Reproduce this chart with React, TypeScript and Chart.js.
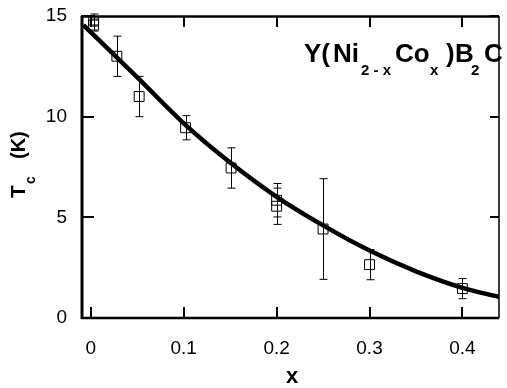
import { useEffect, useRef } from "react";
import { Chart, registerables } from "chart.js";

Chart.register(...registerables);

// measured points (x = Co content, Tc in K) with symmetric error bars
const pointX = [0.003, 0.003, 0.028, 0.052, 0.102, 0.151, 0.2, 0.2, 0.25, 0.3, 0.4];
const pointY = [14.8, 14.55, 13.0, 11.0, 9.45, 7.45, 5.85, 5.55, 4.42, 2.65, 1.46];
const pointErr = [0.3, 0.3, 1.0, 1.0, 0.6, 1.0, 0.83, 0.9, 2.5, 0.75, 0.5];

// fitted curve
const fitX = [-0.008, 0.05, 0.1, 0.15, 0.2, 0.25, 0.3, 0.35, 0.4, 0.44];
const fitY = [14.55, 11.95, 9.67, 7.72, 6.02, 4.6, 3.35, 2.32, 1.5, 1.04];

const xTicks = [0, 0.1, 0.2, 0.3, 0.4];
const yTicks = [0, 5, 10, 15];
const xRange = [-0.0106, 0.4394];
const yRange = [0, 15];

const FONT = '"Liberation Sans", Arial, Helvetica, sans-serif';

const zeroPadding = (s: any) => {
  s.paddingTop = 0;
  s.paddingBottom = 0;
  s.paddingLeft = 0;
  s.paddingRight = 0;
};

const errorBarPlugin = {
  id: "errorBars",
  afterDatasetsDraw(chart: any) {
    const { ctx, scales } = chart;
    const xs = scales.x;
    const ys = scales.y;
    ctx.save();
    ctx.strokeStyle = "#000";
    ctx.lineWidth = 1;
    for (let i = 0; i < pointX.length; i++) {
      const px = Math.round(xs.getPixelForValue(pointX[i])) + 0.5;
      const top = ys.getPixelForValue(pointY[i] + pointErr[i]);
      const bot = ys.getPixelForValue(pointY[i] - pointErr[i]);
      ctx.beginPath();
      ctx.moveTo(px, top);
      ctx.lineTo(px, bot);
      ctx.moveTo(px - 4, top);
      ctx.lineTo(px + 4, top);
      ctx.moveTo(px - 4, bot);
      ctx.lineTo(px + 4, bot);
      ctx.stroke();
    }
    ctx.restore();
  },
};

const framePlugin = {
  id: "frame",
  afterDraw(chart: any) {
    const { ctx, chartArea, scales } = chart;
    const { left, right, top, bottom } = chartArea;
    const xs = scales.x;
    const ys = scales.y;
    ctx.save();
    ctx.strokeStyle = "#000";
    ctx.lineCap = "butt";
    ctx.lineWidth = 3;
    ctx.beginPath();
    ctx.moveTo(left + 1, top);
    ctx.lineTo(left + 1, bottom + 1);
    ctx.stroke();
    ctx.lineWidth = 2.5;
    ctx.beginPath();
    ctx.moveTo(left, bottom);
    ctx.lineTo(right, bottom);
    ctx.moveTo(left, top + 0.5);
    ctx.lineTo(right, top + 0.5);
    ctx.stroke();
    ctx.lineWidth = 1.5;
    ctx.beginPath();
    ctx.moveTo(right, top);
    ctx.lineTo(right, bottom);
    ctx.stroke();
    ctx.lineWidth = 2;
    ctx.beginPath();
    for (const v of xTicks) {
      const px = Math.round(xs.getPixelForValue(v));
      ctx.moveTo(px, bottom);
      ctx.lineTo(px, bottom - 11);
      ctx.moveTo(px, top);
      ctx.lineTo(px, top + 11);
    }
    for (const v of yTicks) {
      const py = Math.round(ys.getPixelForValue(v));
      ctx.moveTo(left, py);
      ctx.lineTo(left + 13, py);
      ctx.moveTo(right, py);
      ctx.lineTo(right - 9, py);
    }
    ctx.stroke();
    ctx.restore();
  },
};

const textPlugin = {
  id: "texts",
  afterDraw(chart: any) {
    const { ctx } = chart;
    ctx.save();
    ctx.fillStyle = "#000";
    ctx.textBaseline = "alphabetic";
    ctx.textAlign = "left";
    const main = `bold 26px ${FONT}`;
    const sub = `bold 15px ${FONT}`;
    const base = 62;
    const subBase = 75;
    const parts: [string, string, number, number][] = [
      ["Y(", main, 304, base],
      ["Ni", main, 333, base],
      ["2 - x", sub, 361, subBase],
      ["Co", main, 395, base],
      ["x", sub, 430, subBase],
      [")", main, 446, base],
      ["B", main, 455, base],
      ["2", sub, 471, subBase],
      ["C", main, 484, base],
    ];
    for (const [t, f, x, y] of parts) {
      ctx.font = f;
      ctx.fillText(t, x, y);
    }
    ctx.font = `bold 22px ${FONT}`;
    ctx.textAlign = "center";
    ctx.fillText("x", 292, 383);
    ctx.save();
    ctx.translate(25, 0);
    ctx.rotate(-Math.PI / 2);
    ctx.textAlign = "left";
    ctx.font = `bold 21px ${FONT}`;
    ctx.fillText("T", -198, 0);
    ctx.font = `bold 14px ${FONT}`;
    ctx.fillText("c", -184, 10);
    ctx.font = `bold 20px ${FONT}`;
    ctx.fillText("(K)", -159, 0);
    ctx.restore();
    ctx.restore();
  },
};

export default function App() {
  const ref = useRef<HTMLCanvasElement | null>(null);
  useEffect(() => {
    document.body.style.margin = "0";
    if (!ref.current) return;
    const chart = new Chart(ref.current, {
      type: "scatter",
      data: {
        datasets: [
          {
            label: "fit",
            data: fitX.map((x, i) => ({ x, y: fitY[i] })),
            showLine: true,
            borderColor: "#000",
            borderWidth: 4.5,
            pointRadius: 0,
            cubicInterpolationMode: "monotone",
            fill: false,
          } as any,
          {
            label: "data",
            data: pointX.map((x, i) => ({ x, y: pointY[i] })),
            pointStyle: "rect",
            pointRadius: 7,
            pointBorderWidth: 1,
            pointBorderColor: "#000",
            pointBackgroundColor: "rgba(0,0,0,0)",
            showLine: false,
          } as any,
        ],
      },
      options: {
        responsive: false,
        animation: false,
        devicePixelRatio: 1,
        layout: { padding: { top: 16, right: 1, left: 0, bottom: 0 } },
        plugins: {
          legend: { display: false },
          tooltip: { enabled: false },
        },
        scales: {
          x: {
            type: "linear",
            min: xRange[0],
            max: xRange[1],
            grid: { display: false, drawTicks: false },
            border: { display: false },
            afterBuildTicks: (s: any) => {
              s.ticks = xTicks.map((v) => ({ value: v }));
            },
            afterFit: (s: any) => {
              s.height = 70;
              zeroPadding(s);
            },
            ticks: {
              color: "#000",
              padding: 19,
              maxRotation: 0,
              autoSkip: false,
              font: { family: FONT, size: 19 },
              callback: (v: any) => String(v),
            },
          },
          y: {
            type: "linear",
            min: yRange[0],
            max: yRange[1],
            grid: { display: false, drawTicks: false },
            border: { display: false },
            afterBuildTicks: (s: any) => {
              s.ticks = yTicks.map((v) => ({ value: v }));
            },
            afterFit: (s: any) => {
              s.width = 81;
              zeroPadding(s);
            },
            ticks: {
              color: "#000",
              padding: 14,
              autoSkip: false,
              font: { family: FONT, size: 19 },
              callback: (v: any) => String(v),
            },
          },
        },
      },
      plugins: [errorBarPlugin, framePlugin, textPlugin],
    });
    return () => chart.destroy();
  }, []);
  return <canvas ref={ref} width={507} height={388} style={{ display: "block" }} />;
}
